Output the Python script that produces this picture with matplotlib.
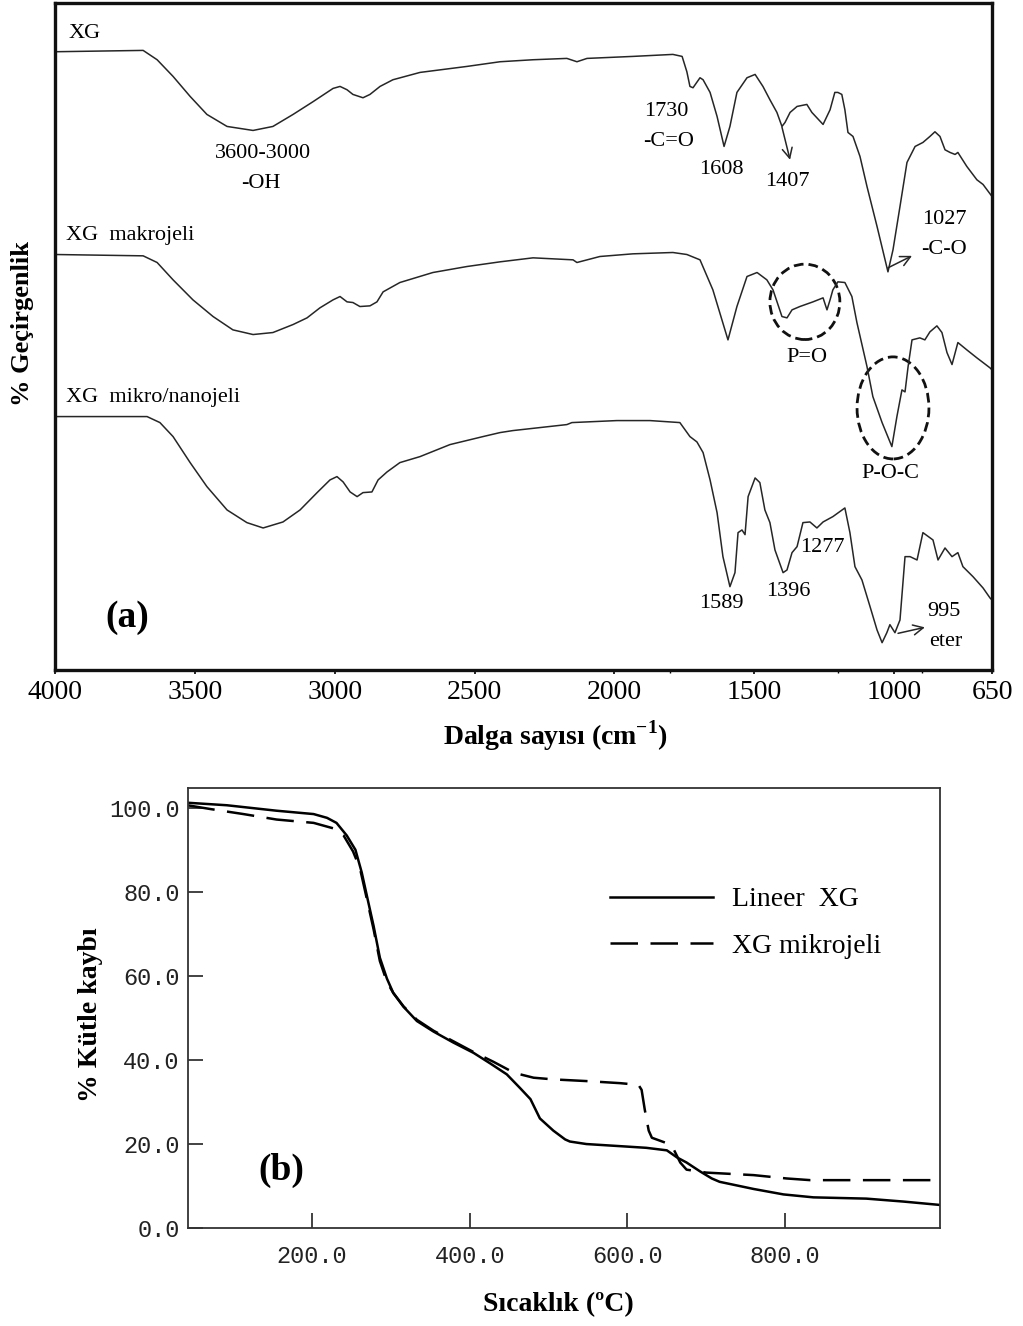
import matplotlib
matplotlib.use("Agg")
import matplotlib.pyplot as plt
from matplotlib.patches import Ellipse

plt.rcParams['font.family'] = ['Liberation Serif', 'DejaVu Serif']
plt.rcParams['mathtext.fontset'] = 'custom'
plt.rcParams['mathtext.rm'] = 'Liberation Serif'
plt.rcParams['mathtext.bf'] = 'Liberation Serif:bold'

# FTIR spectra (a) - wavenumber (cm-1) / stacked transmittance (arb.)
xg_wn = [4000, 3685, 3635, 3578, 3517, 3457, 3385, 3292, 3221, 3149, 3078, 3006, 2981, 2956, 2935,
         2899, 2874, 2838, 2792, 2695, 2527, 2409, 2291, 2170, 2134, 2098, 1934, 1791, 1758, 1741,
         1730, 1719, 1694, 1683, 1658, 1633, 1608, 1587, 1562, 1526, 1497, 1469, 1444, 1419, 1401,
         1390, 1372, 1347, 1312, 1294, 1254, 1229, 1212, 1201, 1187, 1176, 1165, 1147, 1122, 1097,
         1061, 1022, 1004, 979, 954, 925, 897, 872, 854, 836, 818, 800, 782, 772, 740, 704, 682, 650]
xg_t = [92.7, 92.9, 91.5, 89.0, 86.0, 83.3, 81.5, 80.9, 81.5, 83.3, 85.2, 87.2, 87.5, 87.0, 86.3,
        85.8, 86.3, 87.5, 88.5, 89.6, 90.5, 91.2, 91.5, 91.7, 91.2, 91.7, 92.0, 92.3, 92.0, 89.7,
        87.5, 87.3, 88.8, 88.5, 86.6, 83.0, 78.5, 81.5, 86.6, 88.8, 89.3, 87.5, 85.5, 83.6, 81.5,
        82.1, 83.6, 84.5, 84.8, 83.6, 81.8, 84.0, 86.6, 86.6, 86.3, 84.0, 80.6, 80.0, 77.0, 72.5,
        66.5, 59.7, 63.0, 69.5, 76.1, 78.5, 79.1, 80.0, 80.7, 80.0, 78.0, 77.6, 77.3, 77.6, 75.5,
        73.5, 72.8, 71.0]

makro_wn = [4000, 3685, 3635, 3578, 3507, 3435, 3364, 3292, 3221, 3149, 3099, 3053, 3006, 2981, 2956,
            2935, 2910, 2874, 2849, 2827, 2767, 2649, 2527, 2409, 2291, 2148, 2134, 2052, 1934, 1791,
            1741, 1694, 1648, 1594, 1562, 1526, 1490, 1455, 1433, 1401, 1383, 1365, 1337, 1290, 1254,
            1240, 1229, 1219, 1201, 1176, 1151, 1133, 1097, 1076, 1043, 1008, 990, 972, 961, 950,
            936, 908, 890, 872, 847, 829, 811, 793, 772, 740, 704, 682, 657, 650]
makro_t = [62.3, 62.1, 61.1, 58.5, 55.5, 53.0, 51.0, 50.3, 50.6, 51.8, 52.8, 54.3, 55.5, 56.0, 55.2,
           55.1, 54.5, 54.6, 55.2, 56.7, 58.1, 59.6, 60.5, 61.2, 61.8, 61.5, 61.1, 62.0, 62.4, 62.6,
           62.3, 61.5, 57.0, 49.5, 54.5, 59.0, 59.6, 58.5, 57.0, 53.0, 52.8, 54.0, 54.5, 55.2, 55.8,
           54.0, 55.5, 57.0, 58.2, 58.1, 56.0, 52.1, 45.5, 41.0, 37.1, 33.5, 38.0, 42.0, 41.7, 45.5,
           49.5, 49.8, 49.5, 50.7, 51.6, 50.6, 47.6, 45.8, 49.1, 48.0, 46.8, 46.1, 45.3, 45.0]

nano_wn = [4000, 3671, 3625, 3578, 3517, 3457, 3385, 3314, 3256, 3185, 3124, 3063, 3017, 2992, 2970,
           2945, 2920, 2899, 2867, 2845, 2813, 2767, 2695, 2588, 2470, 2409, 2363, 2170, 2152, 1991,
           1873, 1766, 1730, 1705, 1683, 1658, 1633, 1612, 1587, 1569, 1558, 1544, 1533, 1522, 1497,
           1480, 1462, 1444, 1426, 1397, 1383, 1365, 1347, 1326, 1301, 1276, 1254, 1219, 1176, 1158,
           1140, 1115, 1086, 1061, 1043, 1026, 1015, 997, 979, 961, 943, 918, 897, 861, 843,
           818, 793, 772, 754, 718, 682, 657, 650]
nano_t = [38.0, 38.0, 37.1, 35.0, 31.1, 27.5, 24.0, 22.1, 21.3, 22.2, 24.0, 26.6, 28.5, 29.0, 28.2,
          26.7, 26.0, 26.6, 26.7, 28.5, 29.7, 31.1, 32.0, 33.8, 35.0, 35.6, 35.9, 36.8, 37.1, 37.4,
          37.4, 37.1, 35.0, 34.2, 32.6, 28.5, 23.6, 17.0, 12.5, 14.6, 20.6, 21.0, 20.3, 26.0, 28.8,
          28.1, 24.0, 22.1, 18.0, 14.6, 15.0, 17.6, 18.5, 22.1, 22.2, 21.3, 22.2, 23.0, 24.3, 20.6,
          15.5, 13.5, 9.5, 6.0, 4.1, 5.6, 6.8, 5.6, 7.5, 17.0, 17.0, 16.5, 20.6, 19.5, 16.5,
          18.3, 17.0, 17.6, 15.5, 14.0, 12.3, 10.8, 10.5]

ftir_ticks = [4000, 3500, 3000, 2500, 2000, 1500, 1000, 650]

# TGA (b) - temperature (C) / mass (%)
lin_temp = [42, 92, 155, 202, 219, 231, 244, 255, 263, 271, 278, 286, 295, 303, 316, 333, 354, 379,
            405, 426, 447, 464, 477, 489, 506, 521, 527, 548, 599, 624, 650, 663, 675, 692, 707, 717,
            760, 798, 836, 903, 950, 996]
lin_mass = [101.3, 100.7, 99.4, 98.6, 97.7, 96.5, 93.5, 90.1, 84.7, 77.9, 72.0, 64.4, 59.4, 56.0,
            52.7, 49.3, 46.8, 44.2, 41.7, 39.2, 36.6, 33.3, 30.7, 26.1, 23.2, 21.1, 20.6, 20.0, 19.4,
            19.1, 18.5, 16.8, 15.6, 13.5, 11.8, 11.0, 9.3, 8.0, 7.3, 7.0, 6.3, 5.5]
mik_temp = [42, 71, 113, 155, 202, 227, 240, 252, 261, 269, 278, 286, 295, 303, 316, 333, 354, 379,
            405, 430, 451, 464, 481, 506, 548, 591, 614, 618, 622, 627, 631, 650, 658, 667, 675, 700,
            760, 802, 832, 887, 996]
mik_mass = [100.7, 99.8, 98.6, 97.3, 96.5, 95.2, 93.5, 89.7, 85.5, 78.8, 71.2, 63.6, 58.6, 56.0,
            52.8, 49.6, 47.0, 44.5, 41.9, 39.6, 37.5, 36.6, 35.8, 35.4, 35.0, 34.5, 34.1, 32.9, 28.2,
            23.2, 21.5, 20.2, 19.0, 15.6, 13.9, 13.2, 12.6, 11.8, 11.4, 11.4, 11.4]

tga_xticks = [200, 400, 600, 800]
tga_yticks = [0, 20, 40, 60, 80, 100]

fig = plt.figure(figsize=(10.23, 13.26), dpi=100)
fig.patch.set_facecolor('white')

# (a) FTIR
##########
ax1 = fig.add_axes([0.0538, 0.4947, 0.9159, 0.5030])
lc = '#262626'
ax1.plot(xg_wn, xg_t, color=lc, lw=1.1)
ax1.plot(makro_wn, makro_t, color=lc, lw=1.1)
ax1.plot(nano_wn, nano_t, color=lc, lw=1.1)
ax1.set_xlim(4000, 650)
ax1.set_ylim(0, 100)
ax1.set_xticks(ftir_ticks)
ax1.set_xticklabels([str(t) for t in ftir_ticks], fontsize=20)
ax1.set_xticks([1800, 1200, 900], minor=True)
ax1.tick_params(axis='x', which='major', direction='out', length=3, width=1.2, pad=4)
ax1.tick_params(axis='x', which='minor', direction='out', length=2, width=1.0)
ax1.set_yticks([])
for sp in ax1.spines.values():
    sp.set_linewidth(2.4)
    sp.set_color('#111111')

# axis titles placed by their centres
ax1.text(0.534, -0.099, 'Dalga sayısı (cm$^{\\mathbf{-1}}$)', transform=ax1.transAxes,
         fontsize=20, fontweight='bold', ha='center', va='center')
ax1.text(-0.035, 0.52, '% Geçirgenlik', transform=ax1.transAxes, rotation=90,
         fontsize=19, fontweight='bold', ha='center', va='center')

fs = 16
ax1.text(3953, 95.5, 'XG', fontsize=fs, ha='left', va='center')
ax1.text(3961, 65.1, 'XG  makrojeli', fontsize=fs, ha='left', va='center')
ax1.text(3961, 40.8, 'XG  mikro/nanojeli', fontsize=fs, ha='left', va='center')
labels_a = [
    (3256, 77.5, '3600-3000'), (3264, 73.0, '-OH'),
    (1816, 83.8, '1730'), (1808, 79.3, '-C=O'),
    (1619, 75.0, '1608'), (1383, 73.3, '1407'),
    (822, 67.6, '1027'), (822, 63.0, '-C-O'),
    (1312, 46.8, 'P=O'), (1015, 29.5, 'P-O-C'),
    (1258, 18.3, '1277'), (1619, 9.9, '1589'), (1380, 11.7, '1396'),
    (822, 8.8, '995'), (815, 4.3, 'eter'),
]
for x, y, s in labels_a:
    ax1.text(x, y, s, fontsize=fs, ha='center', va='center')
ax1.text(3743, 7.9, '(a)', fontsize=27, fontweight='bold', ha='center', va='center')

arrow_kw = dict(arrowstyle='->', color=lc, lw=1.1, mutation_scale=18, shrinkA=0, shrinkB=0)
ax1.annotate('', xy=(1372, 76.5), xytext=(1401, 81.4), arrowprops=arrow_kw)
ax1.annotate('', xy=(936, 62.1), xytext=(1022, 60.3), arrowprops=arrow_kw)
ax1.annotate('', xy=(890, 6.4), xytext=(986, 5.5), arrowprops=arrow_kw)

for cx, cy, w, h in [(1319, 55.2, 250, 11.3), (1004, 39.3, 257, 15.3)]:
    ax1.add_patch(Ellipse((cx, cy), w, h, fill=False, ec='#111111', lw=2.0,
                          ls=(0, (3.5, 1.8))))

# (b) TGA
#########
ax2 = fig.add_axes([0.1838, 0.0739, 0.7351, 0.3318])
ax2.plot(lin_temp, lin_mass, color='black', lw=1.8, label='Lineer  XG')
ax2.plot(mik_temp, mik_mass, color='black', lw=1.8, dashes=(11, 5), label='XG mikrojeli')
ax2.set_xlim(42.7, 996.5)
ax2.set_ylim(0, 104.8)
ax2.set_xticks(tga_xticks)
ax2.set_xticklabels(['%.1f' % t for t in tga_xticks], family='Liberation Mono', fontsize=17)
ax2.set_yticks(tga_yticks)
ax2.set_yticklabels(['%.1f' % t for t in tga_yticks], family='Liberation Mono', fontsize=17)
ax2.tick_params(axis='x', direction='in', length=11, width=1.2, pad=12, colors='#222222')
ax2.tick_params(axis='y', direction='in', length=11, width=1.2, pad=6, colors='#222222')
for sp in ax2.spines.values():
    sp.set_linewidth(1.3)
    sp.set_color('#333333')

ax2.text(0.492, -0.175, 'Sıcaklık (\u00baC)', transform=ax2.transAxes,
         fontsize=20, fontweight='bold', ha='center', va='center')
ax2.text(-0.13, 0.484, '% Kütle kaybı', transform=ax2.transAxes, rotation=90,
         fontsize=20, fontweight='bold', ha='center', va='center')
ax2.text(161, 13.8, '(b)', fontsize=27, fontweight='bold', ha='center', va='center')

ax2.legend(loc='upper left', bbox_to_anchor=(0.561, 0.775), frameon=False, fontsize=20,
           handlelength=3.7, handletextpad=0.7, labelspacing=0.75, borderpad=0, borderaxespad=0)

fig.savefig('out.png', dpi=100, facecolor='white')
